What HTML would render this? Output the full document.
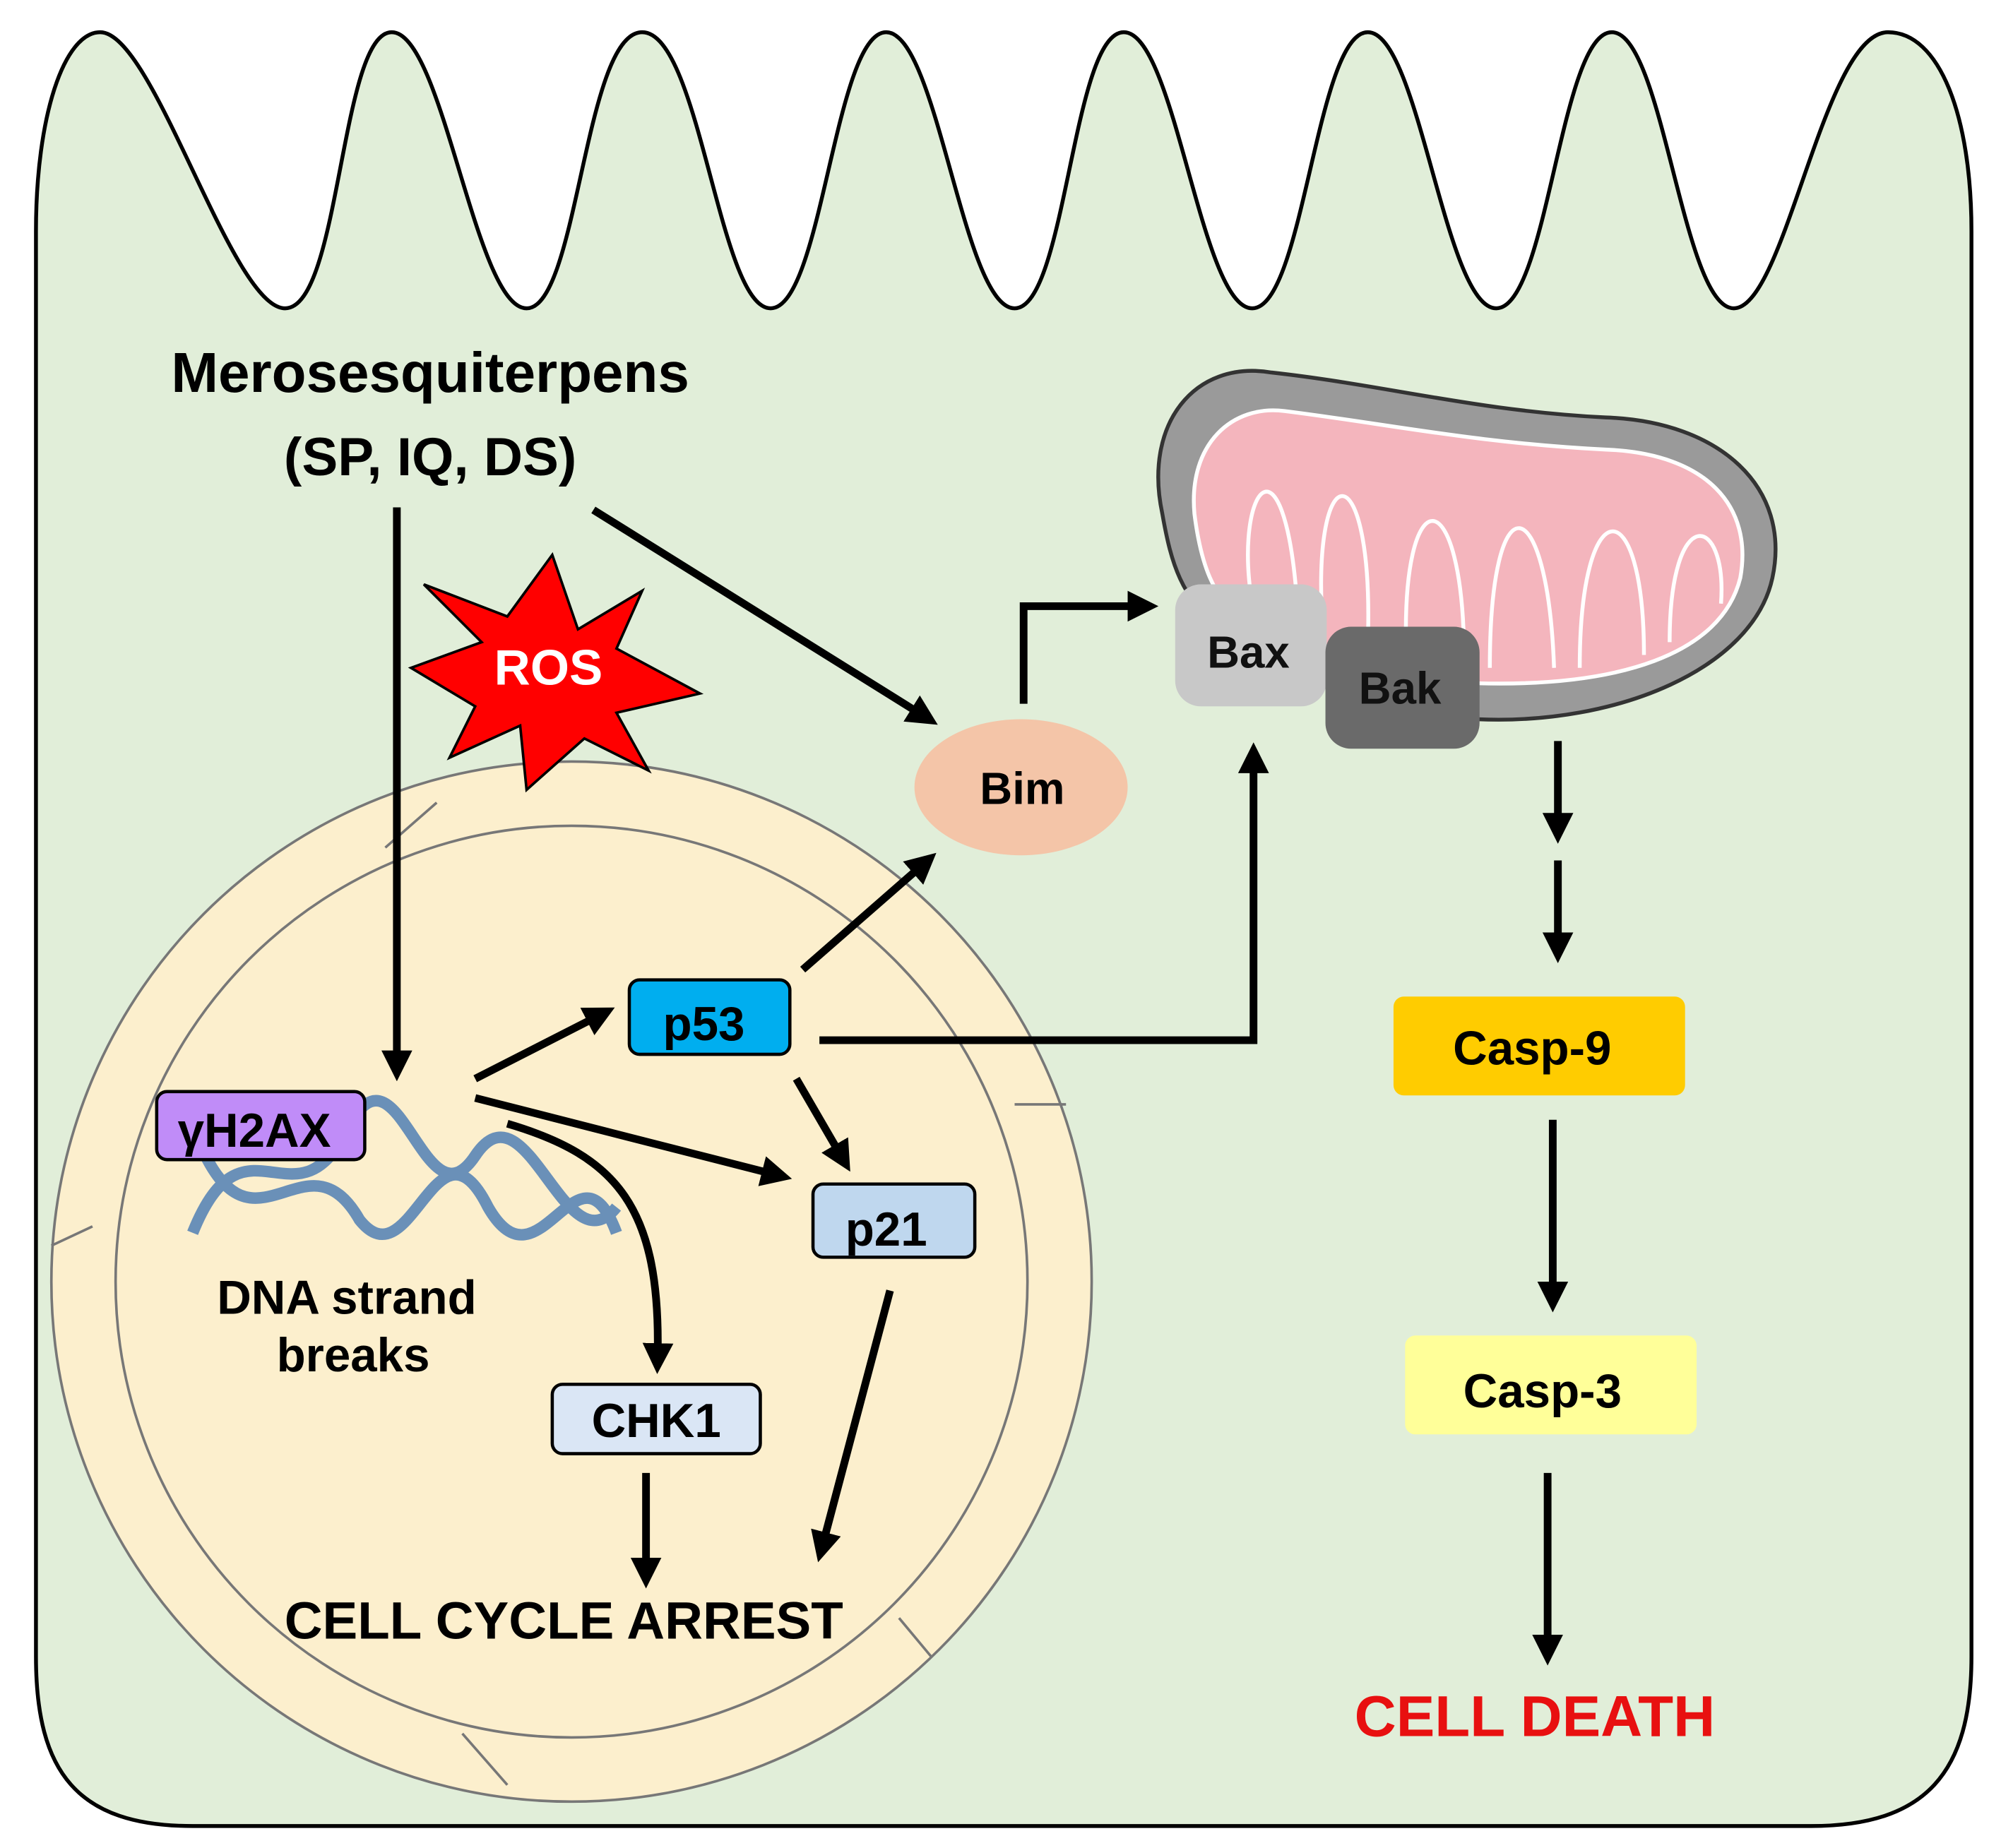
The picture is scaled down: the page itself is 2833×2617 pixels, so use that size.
<!DOCTYPE html>
<html><head><meta charset="utf-8"><style>html,body{margin:0;padding:0;background:#fff}svg{display:block}text{font-family:"Liberation Sans",sans-serif;font-weight:bold}</style></head>
<body>
<svg width="2833" height="2617" viewBox="0 0 1558 1439" xmlns="http://www.w3.org/2000/svg">
<defs>
<marker id="ah" viewBox="0 0 6 6" markerWidth="4" markerHeight="4" refX="3" refY="3" orient="auto" markerUnits="strokeWidth"><path d="M0,0 L6,3 L0,6 z" fill="#000"/></marker>
</defs>
<path d="M28,1290 L28,180 C28,90 50,25 78,25 C120,25 180,240 222,240 C265,240 265,25 305,25 C345,25 370,240 410,240 C450,240 455,25 500,25 C545,25 560,240 600,240 C640,240 650,25 690,25 C730,25 750,240 790,240 C830,240 835,25 875,25 C915,25 935,240 975,240 C1015,240 1025,25 1065,25 C1105,25 1125,240 1165,240 C1205,240 1215,25 1255,25 C1295,25 1310,240 1350,240 C1390,240 1420,25 1470,25 C1510,25 1535,90 1535,180 L1535,1290 C1535,1380 1500,1422 1410,1422 L150,1422 C60,1422 28,1380 28,1290 Z" fill="#e1eed9" stroke="#000" stroke-width="3"/>
<circle cx="445" cy="998" r="405" fill="#fcefcd" stroke="#777" stroke-width="2"/>
<circle cx="445" cy="998" r="355" fill="none" stroke="#777" stroke-width="2"/>
<g stroke="#777" stroke-width="2">
<line x1="300" y1="660" x2="340" y2="625"/><line x1="72" y1="955" x2="40" y2="970"/><line x1="360" y1="1350" x2="395" y2="1390"/><line x1="700" y1="1260" x2="725" y2="1290"/><line x1="790" y1="860" x2="830" y2="860"/>
</g>
<path d="M905,400 C890,330 930,280 990,290 C1080,300 1150,320 1250,325 C1340,328 1395,380 1380,450 C1365,520 1260,565 1150,560 C1080,556 1000,530 950,490 C920,465 912,440 905,400 Z" fill="#9a9a9a" stroke="#333" stroke-width="3"/>
<path d="M930,400 C925,345 960,315 1000,320 C1080,330 1150,345 1250,350 C1330,353 1365,395 1355,450 C1340,510 1260,535 1150,532 C1080,530 1010,510 965,480 C945,465 935,440 930,400 Z" fill="#f4b5bd" stroke="#fff" stroke-width="3"/>
<g fill="none" stroke="#fff" stroke-width="3">
<path d="M975,470 C960,380 1000,330 1010,470"/><path d="M1030,490 C1020,350 1070,350 1065,500"/><path d="M1095,510 C1090,370 1140,370 1140,515"/><path d="M1160,520 C1160,370 1205,380 1210,520"/><path d="M1230,520 C1230,380 1280,380 1280,510"/><path d="M1300,500 C1300,390 1345,400 1340,470"/>
</g>
<rect x="915" y="455" width="118" height="95" rx="20" fill="#c8c8c8"/>
<text x="972" y="520" font-size="35" text-anchor="middle" fill="#111">Bax</text>
<rect x="1032" y="488" width="120" height="95" rx="20" fill="#6a6a6a"/>
<text x="1090" y="548" font-size="35" text-anchor="middle" fill="#111">Bak</text>
<text x="335" y="305" font-size="44" text-anchor="middle">Merosesquiterpens</text>
<text x="335" y="370" font-size="42" text-anchor="middle">(SP, IQ, DS)</text>
<polygon points="430,432 450,490 500,460 480,505 545,540 480,555 505,600 455,575 410,615 405,565 350,590 370,550 320,520 375,500 330,455 395,480" fill="#f00" stroke="#000" stroke-width="2"/>
<text x="427" y="533" font-size="39" text-anchor="middle" fill="#fff">ROS</text>
<ellipse cx="795" cy="613" rx="83" ry="53" fill="#f4c5a8"/>
<text x="796" y="626" font-size="35" text-anchor="middle">Bim</text>
<g stroke="#000" stroke-width="6" fill="none" marker-end="url(#ah)">
<line x1="309" y1="395" x2="309" y2="830"/>
<line x1="462" y1="397" x2="720" y2="558"/>
<polyline points="797,548 797,472 890,472"/>
<line x1="625" y1="755" x2="720" y2="672"/>
<polyline points="638,810 976,810 976,590"/>
<line x1="370" y1="840" x2="468" y2="790"/>
<line x1="370" y1="855" x2="605" y2="915"/>
<line x1="620" y1="840" x2="656" y2="902"/>
<path d="M395,875 C480,900 515,940 512,1058"/>
<line x1="503" y1="1147" x2="503" y2="1225"/>
<line x1="693" y1="1005" x2="640" y2="1205"/>
<line x1="1213" y1="577" x2="1213" y2="645"/>
<line x1="1213" y1="670" x2="1213" y2="738"/>
<line x1="1209" y1="872" x2="1209" y2="1010"/>
<line x1="1205" y1="1147" x2="1205" y2="1285"/>
</g>
<rect x="490" y="763" width="125" height="58" rx="8" fill="#00aeef" stroke="#000" stroke-width="2.5"/>
<text x="548" y="810" font-size="37" text-anchor="middle">p53</text>
<rect x="633" y="922" width="126" height="57" rx="8" fill="#bfd7ee" stroke="#000" stroke-width="2.5"/>
<text x="690" y="970" font-size="37" text-anchor="middle">p21</text>
<rect x="430" y="1078" width="162" height="54" rx="8" fill="#dae6f5" stroke="#000" stroke-width="2.5"/>
<text x="511" y="1119" font-size="37" text-anchor="middle">CHK1</text>
<g fill="none" stroke="#5b86b6" stroke-width="9" opacity="0.9">
<path d="M150,960 C190,860 230,960 270,880 C310,800 330,960 370,900 C410,840 440,990 480,940"/>
<path d="M160,900 C200,980 240,880 280,950 C320,1000 340,860 380,940 C420,1010 450,880 480,960"/>
</g>
<rect x="122" y="850" width="162" height="53" rx="8" fill="#c08cf8" stroke="#000" stroke-width="2.5"/>
<text x="198" y="893" font-size="37" text-anchor="middle">γH2AX</text>
<text x="270" y="1023" font-size="37" text-anchor="middle">DNA strand</text>
<text x="275" y="1068" font-size="37" text-anchor="middle">breaks</text>
<text x="439" y="1276" font-size="41" text-anchor="middle">CELL CYCLE ARREST</text>
<rect x="1085" y="776" width="227" height="77" rx="8" fill="#ffcc00"/>
<text x="1193" y="829" font-size="37" text-anchor="middle">Casp-9</text>
<rect x="1094" y="1040" width="227" height="77" rx="8" fill="#ffff99"/>
<text x="1201" y="1096" font-size="37" text-anchor="middle">Casp-3</text>
<text x="1195" y="1352" font-size="45" text-anchor="middle" fill="#e81010">CELL DEATH</text>
</svg>
</body></html>
